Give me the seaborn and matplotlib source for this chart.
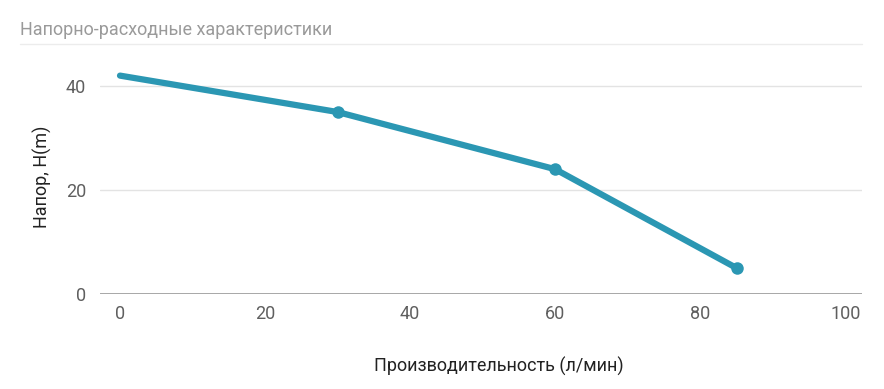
import pandas as pd
import matplotlib.pyplot as plt
import seaborn as sns

flow = [0, 30, 60, 85]
head = [42, 35, 24, 5]
x_ticks = [0, 20, 40, 60, 80, 100]
y_ticks = [0, 20, 40]
title = "Напорно-расходные характеристики"
color = "#2b97b3"

df = pd.DataFrame({"flow": flow, "head": head})

sns.set_style("white")
plt.rcParams['font.family'] = ['Roboto', 'DejaVu Sans']

fig = plt.figure(figsize=(8.84, 3.89), dpi=100)
ax = fig.add_axes([0.1131, 0.2442, 0.862, 0.6015])

sns.lineplot(data=df, x="flow", y="head", ax=ax, color=color, linewidth=4.5,
             marker="o", markersize=9, markeredgewidth=0, markevery=[1, 2, 3])

ax.set_xlim(-2.76, 102.3)
ax.set_ylim(0, 45)
ax.set_xticks(x_ticks)
ax.set_yticks(y_ticks)
ax.grid(axis="y", color="#e3e3e3", linewidth=1)
ax.grid(axis="x", visible=False)
ax.axhline(0, color="#9a9a9a", linewidth=1.2, zorder=1)
for s in ax.spines.values():
    s.set_visible(False)
ax.tick_params(axis="both", length=0, labelsize=13, labelcolor="#5f5f5f")
ax.tick_params(axis="x", pad=8)
ax.tick_params(axis="y", pad=10)

ax.set_xlabel("Производительность (л/мин)", fontsize=13, color="#222222")
ax.xaxis.set_label_coords(0.524, -0.27)
ax.set_ylabel("Напор, H(m)", fontsize=13, color="#222222", labelpad=10)

fig.text(20 / 884, 1 - 30 / 389, title, fontsize=13, color="#9a9a9a", va="center", ha="left")
fig.add_artist(plt.Line2D([20 / 884, 862 / 884], [1 - 44 / 389, 1 - 44 / 389],
                          color="#ececec", linewidth=1))

fig.savefig("out.png", dpi=100, facecolor="white")
